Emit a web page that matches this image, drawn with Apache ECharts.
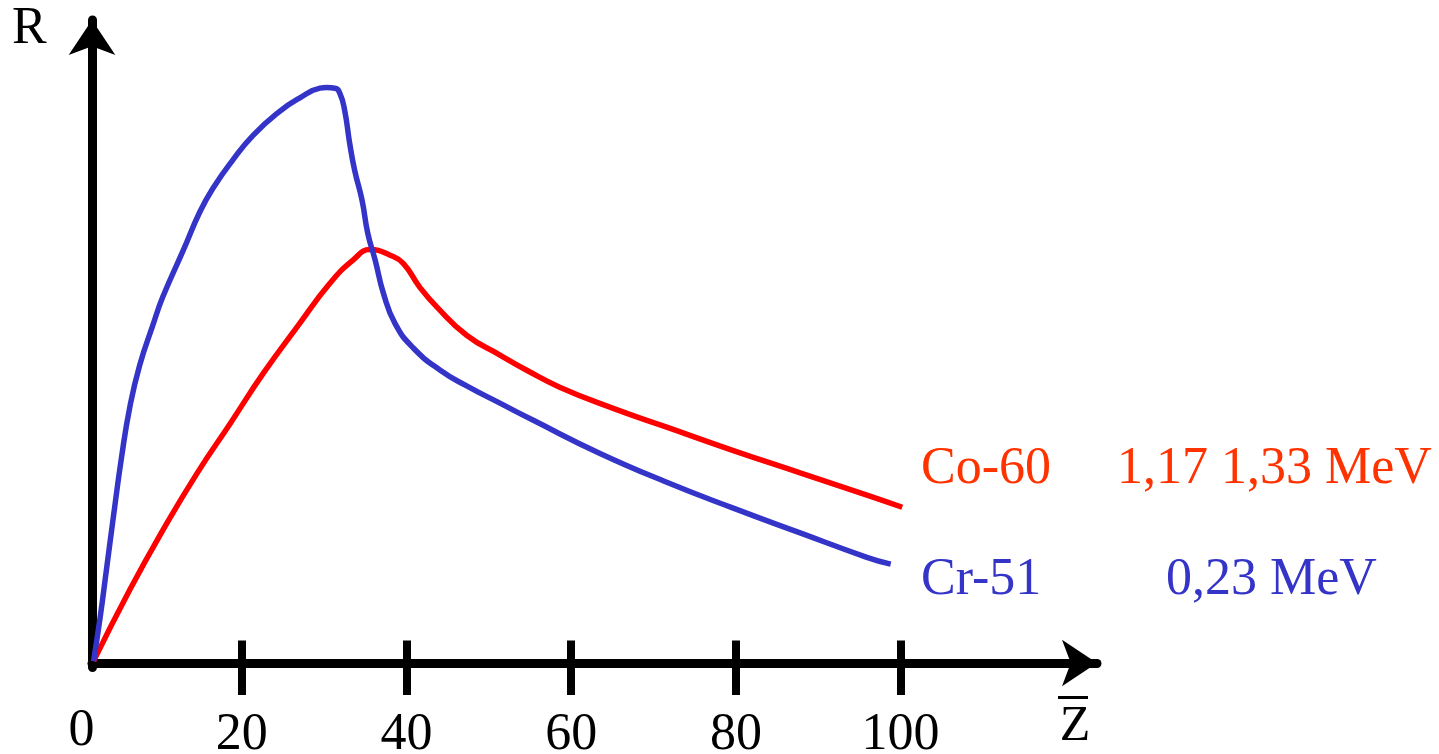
<!DOCTYPE html>
<html>
<head>
<meta charset="utf-8">
<script src="https://cdn.jsdelivr.net/npm/echarts@6/dist/echarts.min.js"></script>
<style>
  html, body { margin: 0; padding: 0; background: #fff; }
  #board { width: 1439px; height: 754px; }
</style>
</head>
<body>
<div id="board"></div>
<script>
// Z values (x) and R values (y, arbitrary units)
var coZ = [2.0, 6.4, 10.4, 14.6, 18.6, 22.6, 26.7, 30.7, 33.5, 35.6, 38.0, 39.6, 41.6, 43.7, 47.3, 51.4, 54.6, 58.6, 65.1, 71.6, 79.6, 87.8, 96.0, 100.2];
var coR = [0.3, 11.7, 21.2, 30.4, 38.3, 46.3, 53.7, 60.7, 64.4, 66.1, 65.2, 63.9, 60.1, 56.9, 52.4, 49.2, 46.8, 44.1, 40.7, 37.7, 34.0, 30.4, 26.8, 24.9];

var crZ = [2.0, 2.8, 3.6, 4.4, 5.4, 6.4, 7.6, 9.2, 10.4, 12.9, 14.9, 16.5, 18.9, 21.4, 24.6, 27.1, 29.5, 30.3, 31.3, 31.9, 32.5, 33.1, 33.7, 34.6, 35.3, 36.2, 37.2, 38.6, 40.8, 44.1, 47.3, 51.4, 55.4, 63.5, 71.6, 79.6, 87.8, 95.9, 98.8];
var crR = [0.3, 7.3, 15.3, 23.3, 32.9, 40.9, 47.6, 54.0, 58.5, 66.0, 72.1, 75.9, 80.4, 84.4, 88.2, 90.4, 91.9, 92.0, 91.9, 91.1, 88.3, 83.1, 78.8, 74.0, 68.7, 64.4, 59.1, 54.3, 50.4, 46.8, 44.3, 41.5, 38.8, 33.5, 28.9, 24.8, 20.8, 16.9, 15.8];

var tickValues = [20, 40, 60, 80, 100];

var serif = '"Liberation Serif", "Times New Roman", serif';
var red = '#ff0000';
var redText = '#ff3300';
var blue = '#3434c8';

function zip(xs, ys) {
  return xs.map(function (x, i) { return [x, ys[i]]; });
}

var chart = echarts.init(document.getElementById('board'));

var options = {
  animation: false,
  grid: {
    left: 92,
    top: 20,
    right: 342,
    bottom: 86.5,
    containLabel: false,
    outerBoundsMode: 'none'
  },
  xAxis: [
    {
      type: 'value',
      position: 'bottom',
      min: 1.81,
      max: 123.85,
      axisLine: {
        onZero: true,
        symbol: ['none', 'arrow'],
        symbolSize: [35, 35],
        lineStyle: { color: '#000', width: 9 }
      },
      axisTick: {
        customValues: tickValues,
        length: 32,
        lineStyle: { color: '#000', width: 8 }
      },
      axisLabel: {
        customValues: tickValues,
        margin: 42,
        color: '#000',
        fontFamily: serif,
        fontSize: 52
      },
      splitLine: { show: false }
    },
    {
      type: 'value',
      position: 'bottom',
      min: 1.81,
      max: 123.85,
      axisLine: { show: false, onZero: true },
      axisTick: {
        customValues: tickValues,
        inside: true,
        length: 27,
        lineStyle: { color: '#000', width: 8 }
      },
      axisLabel: { show: false },
      splitLine: { show: false }
    }
  ],
  yAxis: {
    type: 'value',
    min: -0.72,
    max: 102.8,
    axisLine: {
      show: true,
      onZero: false,
      symbol: ['none', 'arrow'],
      symbolSize: [35, 35],
      lineStyle: { color: '#000', width: 9 }
    },
    axisTick: { show: false },
    axisLabel: { show: false },
    splitLine: { show: false }
  },
  series: [
    {
      name: 'Co-60',
      type: 'line',
      data: zip(coZ, coR),
      smooth: 0.5,
      showSymbol: false,
      lineStyle: { color: red, width: 5.5 },
      z: 3
    },
    {
      name: 'Cr-51',
      type: 'line',
      data: zip(crZ, crR),
      smooth: 0.5,
      showSymbol: false,
      lineStyle: { color: blue, width: 5.5 },
      z: 4
    }
  ],
  graphic: [
    { type: 'text', x: 12, y: 29, style: { text: 'R', font: '52px ' + serif, fill: '#000', verticalAlign: 'middle', align: 'left' } },
    { type: 'text', x: 81.5, y: 731.5, style: { text: '0', font: '52px ' + serif, fill: '#000', verticalAlign: 'middle', align: 'center' } },
    { type: 'text', x: 1075, y: 726.5, style: { text: 'Z', font: '50px ' + serif, fill: '#000', verticalAlign: 'middle', align: 'center' } },
    { type: 'rect', shape: { x: 1058, y: 696, width: 30, height: 3 }, style: { fill: '#000' } },
    { type: 'text', x: 921, y: 469.5, style: { text: 'Co-60', font: '52px ' + serif, fill: redText, verticalAlign: 'middle', align: 'left' } },
    { type: 'text', x: 1117, y: 469.5, style: { text: '1,17 1,33 MeV', font: '52px ' + serif, fill: redText, verticalAlign: 'middle', align: 'left' } },
    { type: 'text', x: 921, y: 580.5, style: { text: 'Cr-51', font: '52px ' + serif, fill: blue, verticalAlign: 'middle', align: 'left' } },
    { type: 'text', x: 1166, y: 580.5, style: { text: '0,23 MeV', font: '52px ' + serif, fill: blue, verticalAlign: 'middle', align: 'left' } }
  ]
};

chart.setOption(options);
</script>
</body>
</html>
